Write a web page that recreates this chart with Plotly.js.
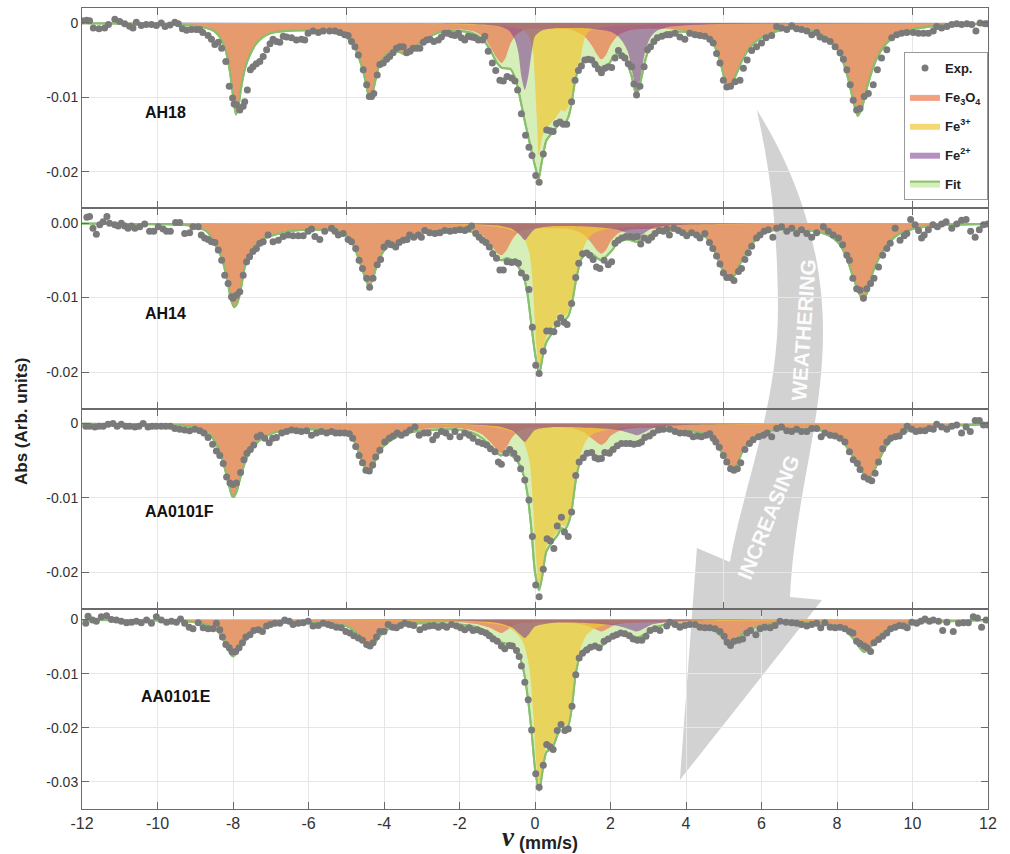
<!DOCTYPE html>
<html>
<head>
<meta charset="utf-8">
<script src="https://cdn.plot.ly/plotly-3.0.1.min.js"></script>
<style>html,body{margin:0;padding:0;background:#fff;}#chart{width:1010px;height:854px;}</style>
</head>
<body>
<div id="chart"></div>
<script>
// ---------------- DATA (velocity mm/s, absorption arb. units) ----------------
const SAMPLE_NAMES = ['AH18', 'AH14', 'AA0101F', 'AA0101E'];

// ---- AH18 ----
const AH18_EXP = [[-12,0.0003],[-11.88,0.00036],[-11.8,0.0003],[-11.7,-0.0007],[-11.55,-0.0008],[-11.4,-0.0007],[-11.3,-0.0002],[-11.13,0.0005],[-11.0,0.0002],[-10.87,-0.0001],
[-10.74,-0.00045],[-10.65,-0.0007],[-10.56,0.0001],[-10.43,-0.00036],[-10.3,-0.0002],[-10.16,-0.0002],[-10.03,-0.00036],[-9.9,0],[-9.8,-0.0005],[-9.67,-0.0003],
[-9.54,0.0001],[-9.45,-0.0001],[-9.34,-0.0008],[-9.23,-0.001],[-9.1,-0.0009],[-8.97,-0.0009],[-8.88,-0.0009],[-8.8,-0.0013],[-8.66,-0.0017],[-8.57,-0.0022],
[-8.48,-0.0029],[-8.39,-0.0026],[-8.3,-0.0034],[-8.19,-0.0052],[-8.1,-0.0085],[-8.01,-0.0101],[-7.97,-0.0109],[-7.91,-0.011],[-7.82,-0.0117],[-7.73,-0.0112],
[-7.69,-0.0106],[-7.62,-0.009],[-7.54,-0.0063],[-7.47,-0.0059],[-7.38,-0.0055],[-7.29,-0.0052],[-7.2,-0.0045],[-7.11,-0.0036],[-7.02,-0.0028],[-6.94,-0.0022],
[-6.85,-0.0025],[-6.76,-0.0026],[-6.67,-0.0018],[-6.58,-0.0019],[-6.45,-0.002],[-6.32,-0.0023],[-6.19,-0.0022],[-6.1,-0.0023],[-6.01,-0.0014],[-5.88,-0.0011],
[-5.74,-0.0013],[-5.61,-0.0011],
[-5.44,-0.0011],[-5.3,-0.0011],[-5.17,-0.0013],[-5.04,-0.0016],[-4.95,-0.0017],[-4.86,-0.0025],[-4.77,-0.0032],[-4.68,-0.0043],[-4.55,-0.0063],[-4.46,-0.0083],
[-4.39,-0.0099],[-4.33,-0.0099],[-4.27,-0.0095],[-4.18,-0.007],[-4.11,-0.0056],[-4.02,-0.0054],[-3.93,-0.0049],[-3.85,-0.0045],[-3.76,-0.004],[-3.67,-0.0034],
[-3.58,-0.0032],[-3.49,-0.0032],[-3.4,-0.004],[-3.31,-0.0038],[-3.23,-0.0034],[-3.14,-0.0034],[-3.05,-0.0034],[-2.96,-0.0026],[-2.87,-0.0023],[-2.78,-0.0022],
[-2.68,-0.0025],[-2.56,-0.0023],[-2.48,-0.0019],[-2.39,-0.0014],[-2.3,-0.0014],[-2.21,-0.0016],[-2.12,-0.0017],[-2.03,-0.0014],[-1.95,-0.002],[-1.86,-0.0023],
[-1.77,-0.0018],[-1.68,-0.0019],[-1.59,-0.002],[-1.5,-0.0023],[-1.39,-0.0023],[-1.33,-0.0018],[-1.24,-0.0038],[-1.13,-0.0054],[-1.04,-0.0064],[-0.93,-0.0077],
[-0.84,-0.0078],[-0.74,-0.0072],[-0.62,-0.0074],[-0.53,-0.0078],[-0.46,-0.009],[-0.36,-0.0122],[-0.25,-0.0151],[-0.16,-0.0167],[-0.08,-0.0178],[0.02,-0.0205],
[0.11,-0.0214],[0.22,-0.0176],[0.31,-0.0144],[0.4,-0.0145],[0.48,-0.0146],[0.57,-0.0135],[0.66,-0.0133],[0.75,-0.0136],[0.84,-0.0136],[0.97,-0.0106],
[1.06,-0.0077],[1.15,-0.0064],[1.23,-0.0058],[1.32,-0.005],[1.41,-0.0049],[1.5,-0.005],[1.59,-0.0056],[1.68,-0.0062],[1.76,-0.0067],[1.85,-0.0061],
[1.94,-0.0059],[2.03,-0.006],[2.12,-0.0047],[2.21,-0.0037],[2.3,-0.0044],[2.38,-0.0047],[2.47,-0.0055],[2.56,-0.0059],[2.62,-0.0082],[2.69,-0.0097],
[2.78,-0.0085],[2.89,-0.0059],[2.98,-0.0036],[3.06,-0.0032],[3.15,-0.0025],[3.24,-0.002],[3.36,-0.0018],[3.49,-0.0016],
[3.57,-0.0016],[3.71,-0.0014],[3.84,-0.0019],[3.97,-0.0022],[4.1,-0.0014],[4.24,-0.0016],[4.37,-0.0017],[4.5,-0.0018],[4.63,-0.0022],[4.72,-0.0027],
[4.81,-0.0041],[4.9,-0.0054],[4.99,-0.0077],[5.08,-0.0086],[5.18,-0.0085],[5.3,-0.0079],[5.43,-0.0077],[5.52,-0.0061],[5.62,-0.005],[5.74,-0.0037],
[5.87,-0.0032],[6.0,-0.0027],[6.12,-0.002],[6.27,-0.0017],[6.4,-0.0005],[6.53,-0.0007],[6.67,-0.0009],[6.8,-0.0004],[6.93,-0.0008],[7.06,-0.0009],
[7.2,-0.0011],[7.33,-0.0016],[7.46,-0.0013],[7.55,-0.0019],[7.68,-0.0022],[7.82,-0.0025],[7.95,-0.0032],[8.08,-0.004],[8.17,-0.0049],[8.26,-0.0063],
[8.35,-0.0083],[8.43,-0.0104],[8.52,-0.0117],[8.61,-0.0115],[8.72,-0.0099],[8.83,-0.0095],[8.96,-0.0083],[9.07,-0.0063],[9.18,-0.0047],[9.32,-0.0036],
[9.45,-0.002],[9.58,-0.0016],[9.71,-0.0014],[9.85,-0.0013],[10.02,-0.0013],[10.16,-0.0014],[10.29,-0.0014],[10.42,-0.0014],[10.55,-0.0011],[10.64,-0.0005],
[10.77,-0.0007],[10.91,-0.0005],[11.04,-0.0002],[11.17,-0.0001],[11.3,-0.0002],[11.44,-0.0001],[11.57,-0.0002],[11.68,-0.0011],[11.79,0],[11.92,-0.0001],[11.99,-0.0001]];
const AH18_FE3O4 = [[-12,-0.00005],[-10,-0.0001],[-9.3,-0.0002],[-9.0,-0.0003],[-8.7,-0.0006],[-8.5,-0.001],[-8.35,-0.0018],[-8.2,-0.0035],[-8.08,-0.0065],[-7.98,-0.0105],[-7.92,-0.0122],[-7.86,-0.0112],[-7.78,-0.0085],[-7.68,-0.006],[-7.55,-0.0042],[-7.4,-0.0028],[-7.2,-0.0018],[-7.0,-0.0013],[-6.6,-0.001],[-6.0,-0.0009],[-5.5,-0.001],[-5.2,-0.0014],[-5.0,-0.0018],[-4.8,-0.003],[-4.65,-0.0048],[-4.5,-0.0075],[-4.42,-0.0095],[-4.38,-0.01],[-4.3,-0.0092],[-4.2,-0.007],[-4.1,-0.0052],[-3.95,-0.0042],[-3.8,-0.0038],[-3.6,-0.0038],[-3.4,-0.0042],[-3.2,-0.0033],[-3.0,-0.0024],[-2.7,-0.0015],[-2.4,-0.001],[-2.0,-0.0009],[-1.6,-0.0012],[-1.35,-0.002],[-1.15,-0.0035],[-1.0,-0.0048],[-0.89,-0.0054],[-0.78,-0.0047],[-0.65,-0.0028],[-0.5,-0.0016],[-0.3,-0.001],[0,-0.0008],[0.5,-0.0008],[1.0,-0.001],[1.3,-0.0018],[1.5,-0.003],[1.65,-0.0043],[1.76,-0.0049],[1.88,-0.0043],[2.0,-0.003],[2.2,-0.0017],[2.5,-0.001],[3.0,-0.0008],[3.5,-0.0008],[4.0,-0.0011],[4.4,-0.0014],[4.65,-0.0022],[4.8,-0.0035],[4.95,-0.006],[5.05,-0.008],[5.12,-0.0086],[5.2,-0.0082],[5.35,-0.0066],[5.5,-0.0048],[5.7,-0.0032],[5.9,-0.0022],[6.2,-0.0014],[6.6,-0.0008],[7.0,-0.0007],[7.4,-0.001],[7.7,-0.0018],[7.95,-0.003],[8.15,-0.005],[8.3,-0.0075],[8.45,-0.0108],[8.55,-0.0124],[8.65,-0.0115],[8.8,-0.0085],[8.95,-0.006],[9.1,-0.0042],[9.3,-0.0027],[9.6,-0.0015],[10.0,-0.0008],[10.5,-0.0005],[11.0,-0.0003],[12.0,-0.0001]];
const AH18_FE3 = [[-12,0],[-4,-0.0001],[-2,-0.0002],[-1,-0.0004],[-0.5,-0.0007],[-0.3,-0.001],[-0.15,-0.002],[-0.05,-0.004],[0.0,-0.008],[0.05,-0.013],[0.1,-0.0178],[0.15,-0.0165],[0.2,-0.0152],[0.3,-0.0142],[0.45,-0.0133],[0.57,-0.0126],[0.7,-0.0117],[0.79,-0.0119],[0.88,-0.0113],[0.97,-0.0104],[1.1,-0.0077],[1.23,-0.0041],[1.32,-0.002],[1.45,-0.0011],[1.8,-0.0006],[2.5,-0.0003],[4,-0.0001],[12,0]];
const AH18_FE2 = [[-12,0],[-3,-0.00005],[-1.5,-0.0002],[-1.0,-0.0004],[-0.7,-0.001],[-0.53,-0.0023],[-0.44,-0.004],[-0.36,-0.0072],[-0.27,-0.009],[-0.18,-0.0072],[-0.09,-0.004],[0.0,-0.0018],[0.2,-0.001],[0.6,-0.0007],[1.0,-0.0007],[1.5,-0.0008],[2.0,-0.0012],[2.2,-0.0018],[2.34,-0.0027],[2.47,-0.004],[2.6,-0.0072],[2.69,-0.0097],[2.78,-0.0077],[2.91,-0.004],[3.05,-0.002],[3.22,-0.0011],[3.6,-0.0005],[4.5,-0.0002],[12,0]];
const AH18_FIT = [[-12,-0.00005],[-10,-0.00015],[-9.3,-0.0003],[-9.0,-0.0004],[-8.7,-0.0007],[-8.5,-0.0011],[-8.35,-0.0019],[-8.2,-0.0036],[-8.08,-0.0066],[-7.98,-0.0106],[-7.92,-0.0123],[-7.86,-0.0113],[-7.78,-0.0086],[-7.68,-0.0061],[-7.55,-0.0043],[-7.4,-0.0029],[-7.2,-0.0019],[-7.0,-0.0014],[-6.6,-0.0011],[-6.0,-0.001],[-5.5,-0.0011],[-5.2,-0.0015],[-5.0,-0.0019],[-4.8,-0.0031],[-4.65,-0.0049],[-4.5,-0.0076],[-4.42,-0.0096],[-4.38,-0.0101],[-4.3,-0.0093],[-4.2,-0.0071],[-4.1,-0.0053],[-3.95,-0.0043],[-3.8,-0.0039],[-3.6,-0.0039],[-3.4,-0.0043],[-3.2,-0.0034],[-3.0,-0.0025],[-2.7,-0.0016],[-2.4,-0.0011],[-2.0,-0.0011],[-1.6,-0.0015],[-1.35,-0.0024],[-1.15,-0.004],[-1.0,-0.0054],[-0.89,-0.006],[-0.78,-0.0061],[-0.65,-0.0062],[-0.5,-0.0078],[-0.4,-0.01],[-0.3,-0.0125],[-0.2,-0.0148],[-0.1,-0.017],[0.0,-0.0192],[0.1,-0.0209],[0.15,-0.0195],[0.22,-0.0176],[0.3,-0.0158],[0.45,-0.0148],[0.6,-0.0138],[0.7,-0.0131],[0.78,-0.0135],[0.88,-0.0127],[0.97,-0.0108],[1.06,-0.0078],[1.15,-0.0063],[1.3,-0.005],[1.42,-0.0047],[1.55,-0.005],[1.7,-0.0059],[1.8,-0.0062],[1.95,-0.0056],[2.1,-0.0044],[2.25,-0.0043],[2.4,-0.005],[2.55,-0.007],[2.69,-0.0098],[2.8,-0.0078],[2.95,-0.0045],[3.1,-0.0028],[3.3,-0.0017],[3.6,-0.0012],[4.0,-0.0012],[4.4,-0.0015],[4.65,-0.0023],[4.8,-0.0036],[4.95,-0.0061],[5.05,-0.0081],[5.12,-0.0087],[5.2,-0.0083],[5.35,-0.0067],[5.5,-0.0049],[5.7,-0.0033],[5.9,-0.0023],[6.2,-0.0015],[6.6,-0.0009],[7.0,-0.0008],[7.4,-0.0011],[7.7,-0.0019],[7.95,-0.0031],[8.15,-0.0051],[8.3,-0.0076],[8.45,-0.0109],[8.55,-0.0125],[8.65,-0.0116],[8.8,-0.0086],[8.95,-0.0061],[9.1,-0.0043],[9.3,-0.0028],[9.6,-0.0016],[10.0,-0.0009],[10.5,-0.0005],[11.0,-0.0003],[12.0,-0.0001]];

// ---- AH14 ----
const AH14_EXP = [[-11.87,0.0008],[-11.8,0.0009],[-11.71,-0.0007],[-11.62,-0.0015],[-11.53,-0.0002],[-11.44,0.0002],[-11.34,0.0009],[-11.27,0],[-11.13,-0.0002],[-11.04,-0.0004],
[-10.96,0],[-10.87,-0.0004],[-10.78,-0.0007],[-10.69,-0.0004],[-10.6,-0.0007],[-10.47,-0.0005],[-10.34,-0.0001],[-10.21,-0.0011],[-10.1,-0.0011],[-9.98,-0.0005],
[-9.85,-0.0008],[-9.76,-0.0011],[-9.66,-0.0011],[-9.52,0.0001],[-9.41,0.0001],[-9.28,-0.0014],[-9.15,-0.0013],[-9.06,-0.0005],[-8.92,-0.0005],[-8.84,-0.0016],
[-8.75,-0.002],[-8.66,-0.0022],[-8.57,-0.0025],[-8.48,-0.0026],[-8.39,-0.0036],[-8.3,-0.005],[-8.22,-0.007],[-8.13,-0.0081],[-8.04,-0.0099],[-8.0,-0.0101],
[-7.91,-0.0097],[-7.82,-0.0092],[-7.73,-0.007],[-7.64,-0.0052],[-7.56,-0.0045],[-7.47,-0.0038],[-7.38,-0.0034],[-7.29,-0.0027],[-7.2,-0.0025],[-7.07,-0.0016],
[-6.94,-0.0025],[-6.8,-0.0023],[-6.67,-0.0018],[-6.54,-0.0016],[-6.41,-0.0017],[-6.27,-0.0017],[-6.14,-0.0017],[-6.01,-0.0011],[-5.92,-0.0008],[-5.83,-0.0018],
[-5.7,-0.0022],[-5.57,-0.0011],
[-5.39,-0.0007],[-5.3,-0.0011],[-5.21,-0.0016],[-5.08,-0.0014],[-4.95,-0.0022],[-4.86,-0.0025],[-4.75,-0.0034],[-4.66,-0.005],[-4.57,-0.0061],[-4.46,-0.0074],
[-4.38,-0.0086],[-4.29,-0.0074],[-4.18,-0.0056],[-4.09,-0.0049],[-4.0,-0.0032],[-3.89,-0.0027],[-3.8,-0.0029],[-3.69,-0.0032],[-3.6,-0.0026],[-3.49,-0.0023],
[-3.39,-0.0022],[-3.32,-0.0016],[-3.21,-0.0019],[-3.09,-0.0016],[-3.01,-0.0019],[-2.92,-0.001],[-2.79,-0.0013],[-2.65,-0.0014],[-2.52,-0.0013],[-2.39,-0.001],
[-2.25,-0.0011],[-2.12,-0.001],[-1.99,-0.0009],[-1.86,-0.001],[-1.77,-0.0008],[-1.68,-0.0004],[-1.57,-0.0014],[-1.48,-0.0019],[-1.39,-0.0023],[-1.3,-0.0026],
[-1.21,-0.0032],[-1.12,-0.0041],[-1.02,-0.0047],[-0.93,-0.0063],[-0.84,-0.0063],[-0.74,-0.0052],[-0.62,-0.0053],[-0.53,-0.0052],[-0.44,-0.0054],[-0.36,-0.0067],
[-0.24,-0.0073],[-0.16,-0.0089],[-0.07,-0.014],[0.02,-0.0191],[0.11,-0.0202],[0.22,-0.0172],[0.31,-0.0145],[0.4,-0.0145],[0.5,-0.0146],[0.59,-0.0135],
[0.68,-0.0127],[0.77,-0.0133],[0.85,-0.0136],[0.97,-0.0108],[1.08,-0.0073],[1.16,-0.0054],[1.26,-0.0041],[1.37,-0.004],[1.45,-0.0043],[1.54,-0.0049],
[1.63,-0.0059],[1.72,-0.0061],[1.83,-0.005],[1.94,-0.0056],[2.03,-0.0052],[2.12,-0.0027],[2.21,-0.0023],[2.3,-0.002],[2.41,-0.0018],[2.52,-0.0018],
[2.62,-0.0019],[2.71,-0.0018],[2.8,-0.0028],[2.89,-0.002],[3.0,-0.0023],[3.09,-0.0019],[3.18,-0.0014],[3.29,-0.001],[3.4,-0.0011],[3.49,-0.0008],
[3.56,-0.0016],[3.68,-0.0007],[3.8,-0.001],[3.91,-0.0013],[4.02,-0.0017],[4.15,-0.0013],[4.28,-0.0016],[4.37,-0.002],[4.5,-0.0014],[4.62,-0.0026],
[4.71,-0.0034],[4.81,-0.0044],[4.9,-0.0055],[4.99,-0.0067],[5.08,-0.0073],[5.18,-0.0073],[5.27,-0.0077],[5.39,-0.0065],[5.47,-0.0061],[5.56,-0.0049],
[5.65,-0.004],[5.74,-0.0031],[5.87,-0.002],[5.96,-0.0016],[6.07,-0.0011],[6.18,-0.0009],[6.3,-0.0019],[6.4,-0.0007],[6.53,-0.0005],[6.67,-0.0011],
[6.8,-0.0007],[6.93,-0.0014],[7.06,-0.0009],[7.2,-0.0014],[7.33,-0.0019],[7.46,-0.0013],[7.64,-0.0005],[7.77,-0.0011],[7.9,-0.0016],[8.04,-0.002],
[8.15,-0.0029],[8.26,-0.0043],[8.33,-0.005],[8.42,-0.0074],[8.52,-0.0088],[8.61,-0.009],[8.7,-0.0101],[8.79,-0.0088],[8.89,-0.0081],[8.98,-0.0074],
[9.1,-0.0059],[9.21,-0.0043],[9.32,-0.0034],[9.41,-0.0027],[9.54,-0.0007],[9.67,-0.0023],[9.78,-0.0017],[9.85,-0.0014],[9.95,0.0005],[10.07,-0.0002],
[10.16,-0.001],[10.24,-0.002],[10.31,-0.0016],[10.42,-0.0009],[10.54,-0.0002],[10.66,-0.0005],[10.77,-0.0001],[10.89,0.0002],[11.04,-0.0007],[11.17,-0.0001],
[11.3,0.0004],[11.42,0.0005],[11.54,-0.0011],[11.66,-0.0019],[11.77,-0.0009],[11.88,-0.0002],[11.99,-0.0001]];
const AH14_FE3O4 = [[-12,-0.00005],[-10,-0.0001],[-9.3,-0.0002],[-9.0,-0.0004],[-8.7,-0.001],[-8.44,-0.003],[-8.3,-0.0045],[-8.17,-0.007],[-8.05,-0.01],[-7.97,-0.0112],[-7.9,-0.0108],[-7.82,-0.0095],[-7.69,-0.006],[-7.56,-0.0041],[-7.38,-0.0027],[-7.1,-0.0018],[-6.85,-0.0014],[-6.5,-0.001],[-5.8,-0.0008],[-5.2,-0.001],[-5.0,-0.0015],[-4.8,-0.003],[-4.65,-0.005],[-4.5,-0.0072],[-4.4,-0.0084],[-4.3,-0.0074],[-4.15,-0.005],[-3.95,-0.0033],[-3.7,-0.0027],[-3.4,-0.002],[-3.0,-0.0013],[-2.5,-0.0009],[-2.0,-0.0008],[-1.6,-0.0011],[-1.35,-0.0018],[-1.15,-0.003],[-1.0,-0.004],[-0.88,-0.0043],[-0.75,-0.0036],[-0.6,-0.0022],[-0.45,-0.0013],[-0.2,-0.0008],[0.5,-0.0007],[1.0,-0.0009],[1.3,-0.0016],[1.5,-0.0027],[1.65,-0.0037],[1.76,-0.0041],[1.88,-0.0036],[2.0,-0.0025],[2.2,-0.0014],[2.5,-0.0009],[3.0,-0.0008],[3.5,-0.0009],[4.0,-0.0011],[4.4,-0.0014],[4.6,-0.0022],[4.8,-0.0042],[4.95,-0.006],[5.1,-0.0072],[5.18,-0.0075],[5.3,-0.0068],[5.45,-0.0052],[5.6,-0.0038],[5.8,-0.0024],[6.0,-0.0014],[6.4,-0.0008],[7.0,-0.0008],[7.5,-0.0011],[7.8,-0.0016],[8.05,-0.0026],[8.25,-0.0045],[8.45,-0.0075],[8.6,-0.0095],[8.7,-0.0103],[8.8,-0.0092],[8.95,-0.0065],[9.15,-0.0042],[9.35,-0.0027],[9.6,-0.0016],[10.0,-0.0008],[10.5,-0.0004],[11,-0.0002],[12,-0.0001]];
const AH14_FE3 = [[-12,0],[-3,-0.0001],[-1.5,-0.0003],[-0.8,-0.0007],[-0.5,-0.0012],[-0.3,-0.002],[-0.15,-0.004],[-0.05,-0.009],[0.03,-0.016],[0.11,-0.0195],[0.2,-0.0174],[0.3,-0.0153],[0.45,-0.0141],[0.57,-0.0128],[0.66,-0.012],[0.75,-0.0126],[0.88,-0.012],[0.97,-0.0104],[1.1,-0.007],[1.23,-0.0041],[1.37,-0.0024],[1.55,-0.0014],[1.9,-0.0008],[2.5,-0.0005],[4,-0.0002],[12,0]];
const AH14_FE2 = [[-12,0],[-2,-0.0001],[-1,-0.0003],[-0.6,-0.0008],[-0.4,-0.0016],[-0.27,-0.0023],[-0.15,-0.0016],[0.0,-0.0008],[0.5,-0.0004],[1.5,-0.0005],[2.2,-0.0009],[2.5,-0.0015],[2.69,-0.002],[2.85,-0.0015],[3.1,-0.0007],[3.6,-0.0003],[5,-0.0001],[12,0]];
const AH14_FIT = [[-12,-0.00005],[-10,-0.00015],[-9.2,-0.0003],[-8.7,-0.0011],[-8.44,-0.0032],[-8.3,-0.0047],[-8.17,-0.0072],[-8.05,-0.0103],[-7.97,-0.0113],[-7.9,-0.0109],[-7.82,-0.0096],[-7.69,-0.006],[-7.56,-0.0042],[-7.38,-0.0028],[-7.1,-0.0019],[-6.85,-0.0015],[-6.5,-0.0011],[-5.8,-0.0009],[-5.2,-0.0011],[-5.0,-0.0016],[-4.8,-0.0031],[-4.65,-0.0051],[-4.5,-0.0073],[-4.4,-0.0085],[-4.3,-0.0075],[-4.15,-0.0051],[-3.95,-0.0034],[-3.7,-0.0028],[-3.4,-0.0021],[-3.0,-0.0014],[-2.5,-0.001],[-2.0,-0.0009],[-1.6,-0.0013],[-1.35,-0.0021],[-1.15,-0.0035],[-1.0,-0.0047],[-0.9,-0.005],[-0.75,-0.0047],[-0.6,-0.005],[-0.45,-0.0058],[-0.3,-0.0072],[-0.2,-0.0095],[-0.1,-0.0135],[0.0,-0.0175],[0.11,-0.0203],[0.2,-0.018],[0.3,-0.016],[0.45,-0.0148],[0.57,-0.0137],[0.66,-0.0126],[0.75,-0.0131],[0.88,-0.0125],[0.97,-0.011],[1.1,-0.0073],[1.23,-0.0048],[1.37,-0.0041],[1.5,-0.0041],[1.65,-0.0047],[1.76,-0.005],[1.9,-0.0044],[2.05,-0.0036],[2.2,-0.0025],[2.45,-0.0022],[2.69,-0.0025],[2.9,-0.002],[3.2,-0.0013],[3.6,-0.001],[4.0,-0.0012],[4.4,-0.0015],[4.6,-0.0023],[4.8,-0.0043],[4.95,-0.0061],[5.1,-0.0073],[5.18,-0.0076],[5.3,-0.0069],[5.45,-0.0053],[5.6,-0.0039],[5.8,-0.0025],[6.0,-0.0015],[6.4,-0.0009],[7.0,-0.0009],[7.5,-0.0012],[7.8,-0.0017],[8.05,-0.0027],[8.25,-0.0046],[8.45,-0.0076],[8.6,-0.0096],[8.7,-0.0104],[8.8,-0.0093],[8.95,-0.0066],[9.15,-0.0043],[9.35,-0.0028],[9.6,-0.0016],[10.0,-0.0008],[10.5,-0.0004],[11,-0.0002],[12,-0.0001]];

// ---- AA0101F ----
const AA0101F_EXP = [[-11.9,-0.0004],[-11.8,-0.0004],[-11.66,-0.0005],[-11.55,-0.0004],[-11.44,-0.0004],[-11.31,-0.0001],[-11.18,0],[-11.07,-0.0004],[-10.96,-0.0001],[-10.84,-0.0004],
[-10.74,-0.0004],[-10.6,-0.0005],[-10.49,-0.0004],[-10.38,0],[-10.25,-0.0005],[-10.14,-0.0004],[-10.03,-0.0004],[-9.9,-0.0004],[-9.78,-0.0004],[-9.66,-0.0004],
[-9.54,-0.0007],[-9.41,-0.0008],[-9.28,-0.0009],[-9.15,-0.001],[-9.01,-0.0008],[-8.88,-0.001],[-8.77,-0.0013],[-8.66,-0.0019],[-8.54,-0.0028],[-8.44,-0.0037],
[-8.35,-0.0043],[-8.26,-0.0054],[-8.17,-0.0072],[-8.08,-0.008],[-8.0,-0.0082],[-7.91,-0.008],[-7.8,-0.0066],[-7.71,-0.0049],[-7.63,-0.004],[-7.54,-0.0035],
[-7.45,-0.0029],[-7.36,-0.0018],[-7.27,-0.0016],[-7.16,-0.002],[-7.04,-0.0026],[-6.95,-0.002],[-6.85,-0.0019],[-6.71,-0.0013],[-6.58,-0.0011],[-6.45,-0.0009],
[-6.32,-0.001],[-6.19,-0.0011],[-6.05,-0.001],[-5.92,-0.0016],[-5.79,-0.0013],[-5.66,-0.0011],[-5.52,-0.0013],
[-5.39,-0.0011],[-5.28,-0.0013],[-5.17,-0.0013],[-5.04,-0.0013],[-4.92,-0.0014],[-4.83,-0.002],[-4.75,-0.0031],[-4.66,-0.0043],[-4.57,-0.0053],[-4.48,-0.0063],
[-4.39,-0.0064],[-4.3,-0.0056],[-4.22,-0.0045],[-4.11,-0.0036],[-3.98,-0.0025],[-3.86,-0.002],[-3.76,-0.0017],[-3.65,-0.0013],[-3.54,-0.0016],[-3.42,-0.0013],
[-3.31,-0.0009],[-3.18,-0.0005],[-3.07,-0.0016],[-2.94,-0.0013],[-2.83,-0.0013],[-2.71,-0.0022],[-2.61,-0.0016],[-2.48,-0.0011],[-2.36,-0.0013],[-2.25,-0.0018],
[-2.12,-0.0011],[-1.99,-0.0018],[-1.86,-0.0013],[-1.74,-0.0016],[-1.64,-0.002],[-1.5,-0.0025],[-1.39,-0.0027],[-1.28,-0.0029],[-1.18,-0.0034],[-1.06,-0.0038],
[-0.97,-0.0052],[-0.89,-0.0055],[-0.77,-0.004],[-0.67,-0.0035],[-0.56,-0.004],[-0.47,-0.0047],[-0.38,-0.0061],[-0.27,-0.0076],[-0.16,-0.0103],[-0.07,-0.0152],
[0.02,-0.0217],[0.11,-0.0233],[0.22,-0.0196],[0.32,-0.0155],[0.41,-0.0158],[0.5,-0.0168],[0.59,-0.0138],[0.7,-0.0126],[0.78,-0.0146],[0.88,-0.0152],
[0.97,-0.0119],[1.08,-0.007],[1.17,-0.0052],[1.28,-0.0046],[1.38,-0.004],[1.5,-0.0039],[1.59,-0.0046],[1.68,-0.0048],[1.76,-0.0047],[1.85,-0.0039],
[1.97,-0.004],[2.07,-0.0035],[2.18,-0.003],[2.29,-0.0027],[2.41,-0.0027],[2.52,-0.0027],[2.62,-0.0028],[2.74,-0.0027],[2.82,-0.0025],[2.91,-0.0019],
[3.03,-0.0017],[3.13,-0.0013],[3.27,-0.0009],[3.4,-0.0008],
[3.57,-0.0008],[3.71,-0.0011],[3.84,-0.0013],[3.97,-0.0013],[4.09,-0.0014],[4.19,-0.0018],[4.3,-0.0017],[4.41,-0.0018],[4.53,-0.0016],[4.63,-0.0014],
[4.72,-0.002],[4.79,-0.0025],[4.88,-0.0032],[4.99,-0.0043],[5.08,-0.0052],[5.18,-0.0061],[5.27,-0.0063],[5.36,-0.0061],[5.45,-0.0053],[5.56,-0.0035],
[5.68,-0.0027],[5.78,-0.0022],[5.92,-0.0018],[6.05,-0.0016],[6.15,-0.0013],[6.27,-0.0018],[6.4,-0.0007],[6.53,-0.0005],[6.67,-0.001],[6.8,-0.0011],
[6.93,-0.0008],[7.06,-0.0011],[7.2,-0.0011],[7.33,-0.0007],[7.46,-0.0007],[7.58,-0.0018],[7.68,-0.0013],[7.82,-0.0016],[7.95,-0.0017],[8.08,-0.002],
[8.21,-0.0025],[8.33,-0.0038],[8.43,-0.0049],[8.54,-0.0054],[8.61,-0.0062],[8.72,-0.0072],[8.83,-0.0075],[8.92,-0.0077],[9.01,-0.0067],[9.1,-0.0052],
[9.21,-0.0034],[9.32,-0.0025],[9.42,-0.002],[9.54,-0.0018],[9.65,-0.0017],[9.76,-0.0011],[9.86,-0.0004],[9.98,-0.0008],[10.09,-0.0011],[10.2,-0.001],
[10.33,-0.001],[10.45,-0.0007],[10.55,-0.0008],[10.64,-0.0001],[10.77,-0.0005],[10.91,-0.0008],[11.04,-0.0004],[11.17,-0.0002],[11.3,-0.0013],[11.42,-0.0005],
[11.53,-0.0011],[11.66,0.0004],[11.77,0.0004],[11.88,-0.0002],[11.99,-0.0002]];
const AA0101F_FE3O4 = [[-12,-0.00005],[-10,-0.00015],[-9.3,-0.0003],[-8.9,-0.0006],[-8.6,-0.0014],[-8.4,-0.003],[-8.25,-0.0052],[-8.12,-0.0078],[-8.03,-0.0095],[-7.98,-0.0098],[-7.9,-0.009],[-7.8,-0.007],[-7.65,-0.0047],[-7.5,-0.0033],[-7.3,-0.0022],[-7.0,-0.0013],[-6.6,-0.0008],[-6.0,-0.0007],[-5.5,-0.0008],[-5.0,-0.0012],[-4.8,-0.0022],[-4.65,-0.004],[-4.5,-0.0058],[-4.42,-0.0064],[-4.33,-0.006],[-4.2,-0.0044],[-4.0,-0.0028],[-3.7,-0.0017],[-3.3,-0.001],[-2.8,-0.0007],[-2.2,-0.0006],[-1.7,-0.0009],[-1.4,-0.0015],[-1.15,-0.0027],[-1.0,-0.0036],[-0.9,-0.004],[-0.78,-0.0034],[-0.62,-0.002],[-0.45,-0.0011],[-0.2,-0.0006],[0.5,-0.0005],[1.0,-0.0007],[1.3,-0.0012],[1.5,-0.002],[1.65,-0.0026],[1.76,-0.0029],[1.88,-0.0025],[2.0,-0.0017],[2.3,-0.0009],[2.8,-0.0006],[3.5,-0.0007],[4.2,-0.001],[4.6,-0.0016],[4.85,-0.003],[5.05,-0.0048],[5.2,-0.0058],[5.35,-0.0054],[5.5,-0.0036],[5.7,-0.0022],[6.0,-0.0012],[6.5,-0.0007],[7.2,-0.0007],[7.8,-0.0011],[8.1,-0.002],[8.35,-0.0038],[8.55,-0.0055],[8.72,-0.0068],[8.83,-0.0073],[8.95,-0.0066],[9.1,-0.005],[9.3,-0.003],[9.6,-0.0015],[10.0,-0.0008],[10.6,-0.0004],[11.5,-0.0002],[12,-0.0001]];
const AA0101F_FE3 = [[-12,0],[-3,-0.0001],[-1.5,-0.0003],[-0.8,-0.0008],[-0.5,-0.0014],[-0.3,-0.0025],[-0.15,-0.005],[-0.05,-0.011],[0.03,-0.018],[0.11,-0.0218],[0.2,-0.0196],[0.3,-0.0166],[0.45,-0.0155],[0.6,-0.0145],[0.7,-0.0136],[0.78,-0.0138],[0.88,-0.013],[0.97,-0.0112],[1.1,-0.0065],[1.23,-0.0038],[1.37,-0.0022],[1.55,-0.0014],[1.9,-0.0009],[2.5,-0.0005],[4,-0.0002],[12,0]];
const AA0101F_FE2 = [[-12,0],[-2,-0.0001],[-1,-0.0004],[-0.6,-0.001],[-0.4,-0.0019],[-0.27,-0.0025],[-0.15,-0.0018],[0.0,-0.0009],[0.5,-0.0005],[1.5,-0.0006],[2.2,-0.0009],[2.5,-0.0013],[2.72,-0.0016],[2.9,-0.0012],[3.1,-0.0007],[3.6,-0.0003],[5,-0.0001],[12,0]];
const AA0101F_FIT = [[-12,-0.00005],[-10,-0.00015],[-9.3,-0.0003],[-8.9,-0.0007],[-8.6,-0.0016],[-8.4,-0.0032],[-8.25,-0.0054],[-8.12,-0.008],[-8.03,-0.0097],[-7.98,-0.0099],[-7.9,-0.0091],[-7.8,-0.0072],[-7.65,-0.0048],[-7.5,-0.0034],[-7.3,-0.0023],[-7.0,-0.0014],[-6.6,-0.0009],[-6.0,-0.0008],[-5.5,-0.0009],[-5.0,-0.0013],[-4.8,-0.0023],[-4.65,-0.0042],[-4.5,-0.006],[-4.42,-0.0066],[-4.33,-0.0062],[-4.2,-0.0046],[-4.0,-0.003],[-3.7,-0.0019],[-3.3,-0.0012],[-2.8,-0.0009],[-2.2,-0.0008],[-1.7,-0.0012],[-1.4,-0.002],[-1.15,-0.0032],[-1.0,-0.004],[-0.91,-0.0043],[-0.78,-0.004],[-0.6,-0.0044],[-0.45,-0.0052],[-0.3,-0.007],[-0.2,-0.0095],[-0.1,-0.014],[0.0,-0.02],[0.11,-0.0224],[0.2,-0.0203],[0.3,-0.0172],[0.45,-0.016],[0.6,-0.015],[0.7,-0.0141],[0.78,-0.0143],[0.88,-0.0135],[0.97,-0.0117],[1.1,-0.007],[1.23,-0.0047],[1.37,-0.004],[1.5,-0.004],[1.65,-0.0044],[1.76,-0.0045],[1.9,-0.0038],[2.05,-0.0033],[2.3,-0.0027],[2.55,-0.0027],[2.72,-0.0027],[2.9,-0.0022],[3.1,-0.0015],[3.4,-0.001],[3.8,-0.001],[4.2,-0.0011],[4.6,-0.0017],[4.85,-0.0031],[5.05,-0.0049],[5.2,-0.0059],[5.35,-0.0055],[5.5,-0.0037],[5.7,-0.0023],[6.0,-0.0013],[6.5,-0.0008],[7.2,-0.0008],[7.8,-0.0012],[8.1,-0.0021],[8.35,-0.0039],[8.55,-0.0056],[8.72,-0.0069],[8.83,-0.0074],[8.95,-0.0067],[9.1,-0.0051],[9.3,-0.0031],[9.6,-0.0016],[10.0,-0.0009],[10.6,-0.0004],[11.5,-0.0002],[12,-0.0001]];

// ---- AA0101E ----
const AA0101E_EXP = [[-11.9,-0.0007],[-11.84,0.0006],[-11.72,-0.0001],[-11.62,-0.0003],[-11.49,0.0005],[-11.35,0.0007],[-11.22,0],[-11.09,-0.0001],[-10.96,-0.0003],[-10.82,-0.0006],
[-10.69,-0.0005],[-10.56,-0.0003],[-10.43,-0.0006],[-10.29,-0.0001],[-10.16,-0.0007],[-10.03,0.0005],[-9.9,-0.0001],[-9.76,-0.0005],[-9.63,-0.0003],[-9.5,-0.0005],
[-9.39,0.0001],[-9.28,-0.0007],[-9.16,-0.0014],[-9.06,-0.0017],[-8.92,-0.0006],[-8.79,-0.0015],[-8.66,-0.0017],[-8.53,-0.0017],[-8.44,-0.0007],[-8.35,-0.0019],
[-8.28,-0.0032],[-8.19,-0.0046],[-8.1,-0.0052],[-8.02,-0.006],[-7.93,-0.0059],[-7.84,-0.0052],[-7.75,-0.0043],[-7.66,-0.0032],[-7.55,-0.0028],[-7.45,-0.002],
[-7.33,-0.0019],[-7.22,-0.0022],[-7.11,-0.0012],[-7.01,-0.0009],[-6.89,-0.0007],[-6.76,-0.0007],[-6.63,-0.0001],[-6.51,-0.0003],[-6.41,-0.0009],[-6.27,-0.0007],
[-6.14,-0.0006],[-6.01,-0.0003],[-5.88,-0.0012],[-5.74,-0.0011],[-5.61,-0.0007],[-5.48,-0.0009],
[-5.39,-0.0011],[-5.26,-0.0014],[-5.13,-0.0015],[-5.01,-0.0022],[-4.9,-0.0025],[-4.8,-0.003],[-4.68,-0.0034],[-4.57,-0.0038],[-4.46,-0.0046],[-4.37,-0.0049],
[-4.29,-0.0043],[-4.2,-0.0032],[-4.11,-0.0022],[-4.0,-0.0022],[-3.89,-0.0009],[-3.77,-0.0014],[-3.67,-0.0015],[-3.56,-0.0011],[-3.45,-0.0007],[-3.33,-0.0009],
[-3.21,-0.0011],[-3.05,-0.0019],[-2.92,-0.0014],[-2.8,-0.0012],[-2.68,-0.0011],[-2.56,-0.0014],[-2.45,-0.0011],[-2.34,-0.0014],[-2.21,-0.0009],[-2.08,-0.0012],
[-1.97,-0.0015],[-1.86,-0.0019],[-1.74,-0.0015],[-1.64,-0.002],[-1.53,-0.0019],[-1.42,-0.0022],[-1.3,-0.0025],[-1.21,-0.003],[-1.11,-0.0036],[-1.0,-0.004],
[-0.89,-0.0049],[-0.8,-0.0054],[-0.68,-0.0048],[-0.6,-0.0049],[-0.49,-0.0057],[-0.42,-0.0068],[-0.36,-0.0086],[-0.27,-0.0116],[-0.18,-0.0148],[-0.09,-0.0204],
[0.02,-0.0285],[0.11,-0.031],[0.22,-0.0269],[0.31,-0.0231],[0.4,-0.0235],[0.48,-0.024],[0.59,-0.0205],[0.69,-0.0194],[0.79,-0.0205],[0.88,-0.0202],
[0.98,-0.016],[1.08,-0.0102],[1.17,-0.0071],[1.26,-0.0062],[1.37,-0.0056],[1.47,-0.0051],[1.59,-0.0049],[1.7,-0.0052],[1.83,-0.004],[1.94,-0.0036],
[2.06,-0.0031],[2.16,-0.0028],[2.27,-0.0025],[2.38,-0.0026],[2.5,-0.003],[2.6,-0.0036],[2.71,-0.0038],[2.83,-0.0038],[2.94,-0.0031],[3.05,-0.002],
[3.18,-0.0017],[3.31,-0.002],[3.49,-0.0012],
[3.57,-0.0005],[3.71,-0.0009],[3.84,-0.0014],[3.97,-0.0011],[4.1,-0.0009],[4.24,-0.0009],[4.37,-0.0014],[4.5,-0.0015],[4.63,-0.0015],[4.77,-0.0017],
[4.9,-0.0022],[5.01,-0.0031],[5.09,-0.0042],[5.18,-0.0048],[5.27,-0.004],[5.39,-0.0038],[5.5,-0.0036],[5.61,-0.0025],[5.71,-0.002],[5.85,-0.0028],
[5.96,-0.0017],[6.09,-0.0014],[6.23,-0.0015],[6.36,-0.0011],[6.49,-0.0003],[6.65,-0.0005],[6.8,-0.0006],[6.93,-0.0007],[7.06,-0.0009],[7.2,-0.0012],
[7.33,-0.0009],[7.46,-0.0007],[7.57,-0.0015],[7.68,-0.0006],[7.82,-0.0014],[7.95,-0.0015],[8.08,-0.0014],[8.21,-0.0017],[8.33,-0.0022],[8.42,-0.0025],
[8.52,-0.004],[8.61,-0.0044],[8.72,-0.0049],[8.8,-0.0052],[8.89,-0.0059],[8.98,-0.0043],[9.1,-0.0037],[9.21,-0.0031],[9.32,-0.0025],[9.42,-0.0017],
[9.54,-0.0014],[9.65,-0.0011],[9.76,-0.0012],[9.86,-0.0015],[9.98,-0.0005],[10.11,-0.0007],[10.22,-0.0003],[10.33,0.0001],[10.45,-0.0003],[10.55,-0.0001],
[10.69,-0.0003],[10.8,-0.002],[10.91,-0.0005],[11.08,-0.0022],[11.22,-0.0007],[11.35,-0.0006],[11.48,-0.0006],[11.61,0.0005],[11.72,0.0003],[11.83,-0.0014],[11.95,-0.0001]];
const AA0101E_FE3O4 = [[-12,-0.00005],[-10,-0.0001],[-9.3,-0.0002],[-8.9,-0.0005],[-8.6,-0.001],[-8.4,-0.002],[-8.25,-0.0036],[-8.12,-0.0055],[-8.0,-0.0066],[-7.9,-0.006],[-7.75,-0.0044],[-7.55,-0.0028],[-7.3,-0.0016],[-7.0,-0.0009],[-6.5,-0.0005],[-5.5,-0.0005],[-5.0,-0.001],[-4.8,-0.0018],[-4.6,-0.0032],[-4.45,-0.0045],[-4.36,-0.0048],[-4.25,-0.0042],[-4.1,-0.0028],[-3.9,-0.0016],[-3.6,-0.0009],[-3.0,-0.0005],[-2.0,-0.0005],[-1.5,-0.0009],[-1.2,-0.0015],[-1.0,-0.0022],[-0.89,-0.0025],[-0.78,-0.0021],[-0.6,-0.0012],[-0.4,-0.0007],[0,-0.0005],[1.0,-0.0006],[1.4,-0.0012],[1.6,-0.0018],[1.76,-0.0022],[1.9,-0.0018],[2.1,-0.001],[2.5,-0.0006],[3.5,-0.0005],[4.3,-0.0008],[4.7,-0.0015],[4.95,-0.003],[5.1,-0.0042],[5.18,-0.0045],[5.3,-0.0038],[5.5,-0.0024],[5.8,-0.0013],[6.2,-0.0007],[7.0,-0.0005],[7.8,-0.0008],[8.2,-0.0018],[8.45,-0.0035],[8.6,-0.005],[8.72,-0.0058],[8.85,-0.0052],[9.05,-0.0035],[9.3,-0.0018],[9.6,-0.001],[10.2,-0.0004],[11,-0.0002],[12,-0.0001]];
const AA0101E_FE3 = [[-12,0],[-3,-0.0002],[-1.5,-0.0005],[-0.8,-0.0012],[-0.5,-0.0025],[-0.3,-0.0045],[-0.15,-0.009],[-0.05,-0.017],[0.03,-0.026],[0.11,-0.0305],[0.2,-0.0272],[0.3,-0.0235],[0.45,-0.0232],[0.6,-0.0205],[0.7,-0.0188],[0.78,-0.0195],[0.88,-0.0192],[0.98,-0.0155],[1.08,-0.0095],[1.2,-0.0055],[1.35,-0.003],[1.55,-0.0018],[1.9,-0.001],[2.5,-0.0006],[4,-0.0003],[12,0]];
const AA0101E_FE2 = [[-12,0],[-2,-0.0002],[-1,-0.0006],[-0.6,-0.0015],[-0.4,-0.0027],[-0.27,-0.0034],[-0.15,-0.0026],[0.0,-0.0013],[0.5,-0.0006],[1.5,-0.0007],[2.2,-0.0012],[2.5,-0.0018],[2.7,-0.0022],[2.9,-0.0016],[3.1,-0.0009],[3.6,-0.0004],[5,-0.0001],[12,0]];
const AA0101E_FIT = [[-12,-0.0001],[-10,-0.00015],[-9.3,-0.0003],[-8.9,-0.0006],[-8.6,-0.0012],[-8.4,-0.0022],[-8.25,-0.0038],[-8.12,-0.0057],[-8.0,-0.0068],[-7.9,-0.0062],[-7.75,-0.0046],[-7.55,-0.003],[-7.3,-0.0017],[-7.0,-0.001],[-6.5,-0.0006],[-5.5,-0.0007],[-5.0,-0.0012],[-4.8,-0.002],[-4.6,-0.0034],[-4.45,-0.0047],[-4.36,-0.005],[-4.25,-0.0044],[-4.1,-0.003],[-3.9,-0.0018],[-3.6,-0.0011],[-3.0,-0.0007],[-2.0,-0.0009],[-1.5,-0.0015],[-1.2,-0.0025],[-1.0,-0.0036],[-0.89,-0.0042],[-0.78,-0.0044],[-0.6,-0.005],[-0.45,-0.0062],[-0.3,-0.0095],[-0.18,-0.015],[-0.08,-0.0215],[0.0,-0.0275],[0.11,-0.0316],[0.2,-0.028],[0.3,-0.0245],[0.45,-0.0238],[0.6,-0.0212],[0.7,-0.0195],[0.78,-0.02],[0.88,-0.0196],[0.98,-0.016],[1.08,-0.01],[1.2,-0.0065],[1.35,-0.0052],[1.55,-0.005],[1.7,-0.0052],[1.85,-0.0044],[2.05,-0.0033],[2.3,-0.0027],[2.55,-0.003],[2.7,-0.0033],[2.9,-0.0028],[3.1,-0.0018],[3.4,-0.001],[3.8,-0.0008],[4.3,-0.001],[4.7,-0.0017],[4.95,-0.0032],[5.1,-0.0044],[5.18,-0.0047],[5.3,-0.004],[5.5,-0.0026],[5.8,-0.0015],[6.2,-0.0008],[7.0,-0.0006],[7.8,-0.0009],[8.2,-0.0019],[8.45,-0.0037],[8.6,-0.0052],[8.72,-0.006],[8.85,-0.0054],[9.05,-0.0037],[9.3,-0.002],[9.6,-0.0011],[10.2,-0.0005],[11,-0.0003],[12,-0.0001]];

// Tick labels
const X_TICKS_TOP = [-10, -5, 0, 5, 10];
const X_TICKS_BOTTOM = [-12, -10, -8, -6, -4, -2, 0, 2, 4, 6, 8, 10, 12];
const X_TICKTEXT_BOTTOM = ['-12', '-10', '-8', '-6', '-4', '-2', '0', '2', '4', '6', '8', '10', '12'];
const Y_TICKS_3 = [0, -0.01, -0.02];
const Y_TICKS_4 = [0, -0.01, -0.02, -0.03];
const Y_TEXT_A = ['0', '-0.01', '-0.02'];
const Y_TEXT_B = ['0.00', '-0.01', '-0.02'];
const Y_TEXT_C = ['0', '-0.01', '-0.02', '-0.03'];

// ---------------- STYLE ----------------
const FONT = 'Liberation Sans, Arial, Helvetica, sans-serif';
const C_EXP = '#7a7a7a';
const C_FIT_LINE = '#88c06e';
const C_FIT_FILL = '#d6efb9';
const C_FE3O4 = 'rgba(235,120,77,0.70)';
const C_FE3 = 'rgba(240,200,54,0.70)';
const C_FE2 = 'rgba(128,66,146,0.58)';

const X = a => a.map(p => p[0]);
const Y = a => a.map(p => p[1]);

function panelTraces(n, exp, fe3o4, fe3, fe2, fit) {
  const xa = n === 1 ? 'x' : 'x' + n;
  const ya = n === 1 ? 'y' : 'y' + n;
  const sl = n === 1;
  const sp = {shape: 'spline', smoothing: 0.7};
  return [
    {type:'scatter', mode:'lines', x:X(fit), y:Y(fit), xaxis:xa, yaxis:ya, name:'<b>Fit</b>', legendgroup:'g5',
     line:Object.assign({color:C_FIT_LINE, width:2}, sp), fill:'tozeroy', fillcolor:C_FIT_FILL,
     showlegend:sl, legendrank:5, hoverinfo:'skip'},
    {type:'scatter', mode:'lines', x:X(fe3o4), y:Y(fe3o4), xaxis:xa, yaxis:ya, name:'<b>Fe<sub>3</sub>O<sub>4</sub></b>', legendgroup:'g2',
     line:Object.assign({color:C_FE3O4, width:0}, sp), fill:'tozeroy', fillcolor:C_FE3O4,
     showlegend:sl, legendrank:2, hoverinfo:'skip'},
    {type:'scatter', mode:'lines', x:X(fe3), y:Y(fe3), xaxis:xa, yaxis:ya, name:'<b>Fe<sup>3+</sup></b>', legendgroup:'g3',
     line:Object.assign({color:C_FE3, width:0}, sp), fill:'tozeroy', fillcolor:C_FE3,
     showlegend:sl, legendrank:3, hoverinfo:'skip'},
    {type:'scatter', mode:'lines', x:X(fe2), y:Y(fe2), xaxis:xa, yaxis:ya, name:'<b>Fe<sup>2+</sup></b>', legendgroup:'g4',
     line:Object.assign({color:C_FE2, width:0}, sp), fill:'tozeroy', fillcolor:C_FE2,
     showlegend:sl, legendrank:4, hoverinfo:'skip'},
    {type:'scatter', mode:'lines', x:X(fit), y:Y(fit), xaxis:xa, yaxis:ya, name:'Fit line', legendgroup:'g5',
     line:Object.assign({color:C_FIT_LINE, width:2}, sp), showlegend:false, hoverinfo:'skip'},
    {type:'scatter', mode:'markers', x:X(exp), y:Y(exp), xaxis:xa, yaxis:ya, name:'<b>Exp.</b>', legendgroup:'g1',
     marker:{color:C_EXP, size:7}, showlegend:sl, legendrank:1}
  ];
}

const data = [].concat(
  panelTraces(1, AH18_EXP, AH18_FE3O4, AH18_FE3, AH18_FE2, AH18_FIT),
  panelTraces(2, AH14_EXP, AH14_FE3O4, AH14_FE3, AH14_FE2, AH14_FIT),
  panelTraces(3, AA0101F_EXP, AA0101F_FE3O4, AA0101F_FE3, AA0101F_FE2, AA0101F_FIT),
  panelTraces(4, AA0101E_EXP, AA0101E_FE3O4, AA0101E_FE3, AA0101E_FE2, AA0101E_FIT)
);

const axBase = {
  showline:true, linecolor:'#6b6b6b', linewidth:1, mirror:'ticks',
  ticks:'inside', ticklen:7, tickwidth:1, tickcolor:'#6b6b6b',
  showgrid:true, gridcolor:'#e6e6e6', gridwidth:1, zeroline:false, fixedrange:true
};
function xAxis(n) {
  const bottom = n === 4;
  const ax = Object.assign({}, axBase, {
    domain:[0,1], range:[-12,12], anchor: n === 1 ? 'y' : 'y' + n,
    tickmode:'array',
    tickvals: bottom ? X_TICKS_BOTTOM : X_TICKS_TOP,
    showticklabels: bottom,
    tickfont:{family:FONT, size:16, color:'#333'}
  });
  if (bottom) ax.ticktext = X_TICKTEXT_BOTTOM;
  return ax;
}
function yAxis(n, dom, rng, vals, txt) {
  return Object.assign({}, axBase, {
    domain:dom, range:rng, anchor: n === 1 ? 'x' : 'x' + n,
    tickmode:'array', tickvals:vals, ticktext:txt,
    tickfont:{family:FONT, size:14, color:'#333'}
  });
}

// Decorative arrow described in page pixels, converted to paper fractions
const PL = 82.3, PW = 905.7, PB = 809, PH = 801;
const P = (x, y) => ((x - PL) / PW).toFixed(4) + ',' + ((PB - y) / PH).toFixed(4);
const px2x = x => (x - PL) / PW;
const px2y = y => (PB - y) / PH;
const arrowPath = 'M' + P(757,110) +
  ' C' + P(795,170) + ' ' + P(825,250) + ' ' + P(823,340) +
  ' C' + P(821,430) + ' ' + P(795,500) + ' ' + P(790,597) +
  ' L' + P(822,600) + ' L' + P(680,780) + ' L' + P(697,548) + ' L' + P(730,562) +
  ' C' + P(745,480) + ' ' + P(780,400) + ' ' + P(778,300) +
  ' C' + P(777,220) + ' ' + P(770,170) + ' ' + P(757,110) + ' Z';

const labelFont = {family:FONT, size:16, color:'#111'};
const annotations = [
  {xref:'x', yref:'y', x:-10.38, y:-0.012, xanchor:'left', yanchor:'middle', text:'<b>' + SAMPLE_NAMES[0] + '</b>', showarrow:false, font:labelFont},
  {xref:'x2', yref:'y2', x:-10.38, y:-0.0121, xanchor:'left', yanchor:'middle', text:'<b>' + SAMPLE_NAMES[1] + '</b>', showarrow:false, font:labelFont},
  {xref:'x3', yref:'y3', x:-10.38, y:-0.0119, xanchor:'left', yanchor:'middle', text:'<b>' + SAMPLE_NAMES[2] + '</b>', showarrow:false, font:labelFont},
  {xref:'x4', yref:'y4', x:-10.5, y:-0.0142, xanchor:'left', yanchor:'middle', text:'<b>' + SAMPLE_NAMES[3] + '</b>', showarrow:false, font:labelFont},
  {xref:'paper', yref:'paper', x:-0.0666, y:0.484, xanchor:'center', yanchor:'middle', textangle:-90,
   text:'<b>Abs (Arb. units)</b>', showarrow:false, font:{family:FONT, size:17, color:'#222'}},
  // x-axis title: italic Greek nu followed by the unit
  {xref:'paper', yref:'paper', x:px2x(516), y:px2y(853), xanchor:'right', yanchor:'bottom',
   text:'<b><i>ν</i></b>', showarrow:false, borderpad:0,
   font:{family:'Liberation Serif, DejaVu Serif, serif', size:27, color:'#222'}},
  {xref:'paper', yref:'paper', x:px2x(518), y:px2y(854), xanchor:'left', yanchor:'bottom',
   text:'<b>(mm/s)</b>', showarrow:false, borderpad:0,
   font:{family:FONT, size:18, color:'#222'}},
  {xref:'paper', yref:'paper', x:0.7957, y:0.598, xanchor:'center', yanchor:'middle', textangle:-86,
   text:'<b>WEATHERING</b>', showarrow:false, font:{family:FONT, size:21, color:'rgba(255,255,255,0.95)'}},
  {xref:'paper', yref:'paper', x:0.7571, y:0.3645, xanchor:'center', yanchor:'middle', textangle:-68,
   text:'<b>INCREASING</b>', showarrow:false, font:{family:FONT, size:21, color:'rgba(255,255,255,0.95)'}}
];

const layout = {
  width:1010, height:854,
  margin:{l:82, r:22, t:8, b:45, pad:0},
  paper_bgcolor:'#ffffff', plot_bgcolor:'#ffffff',
  font:{family:FONT, color:'#222'},
  showlegend:true,
  legend:{x:0.9073, y:0.945, xanchor:'left', yanchor:'top', bgcolor:'#ffffff',
          bordercolor:'#9a9a9a', borderwidth:1, itemwidth:30, traceorder:'grouped', tracegroupgap:9,
          font:{family:FONT, size:13, color:'#222'}},
  xaxis:xAxis(1), xaxis2:xAxis(2), xaxis3:xAxis(3), xaxis4:xAxis(4),
  yaxis:yAxis(1, [0.75,1], [-0.0249,0.002], Y_TICKS_3, Y_TEXT_A),
  yaxis2:yAxis(2, [0.5,0.75], [-0.0249,0.002], Y_TICKS_3, Y_TEXT_B),
  yaxis3:yAxis(3, [0.25,0.5], [-0.0249,0.002], Y_TICKS_3, Y_TEXT_A),
  yaxis4:yAxis(4, [0,0.25], [-0.035,0.002], Y_TICKS_4, Y_TEXT_C),
  shapes:[{type:'path', xref:'paper', yref:'paper', path:arrowPath, layer:'below',
           fillcolor:'rgba(208,208,208,0.95)', line:{width:0}}],
  annotations:annotations
};

Plotly.newPlot('chart', data, layout, {staticPlot:true, displayModeBar:false});
</script>
</body>
</html>
